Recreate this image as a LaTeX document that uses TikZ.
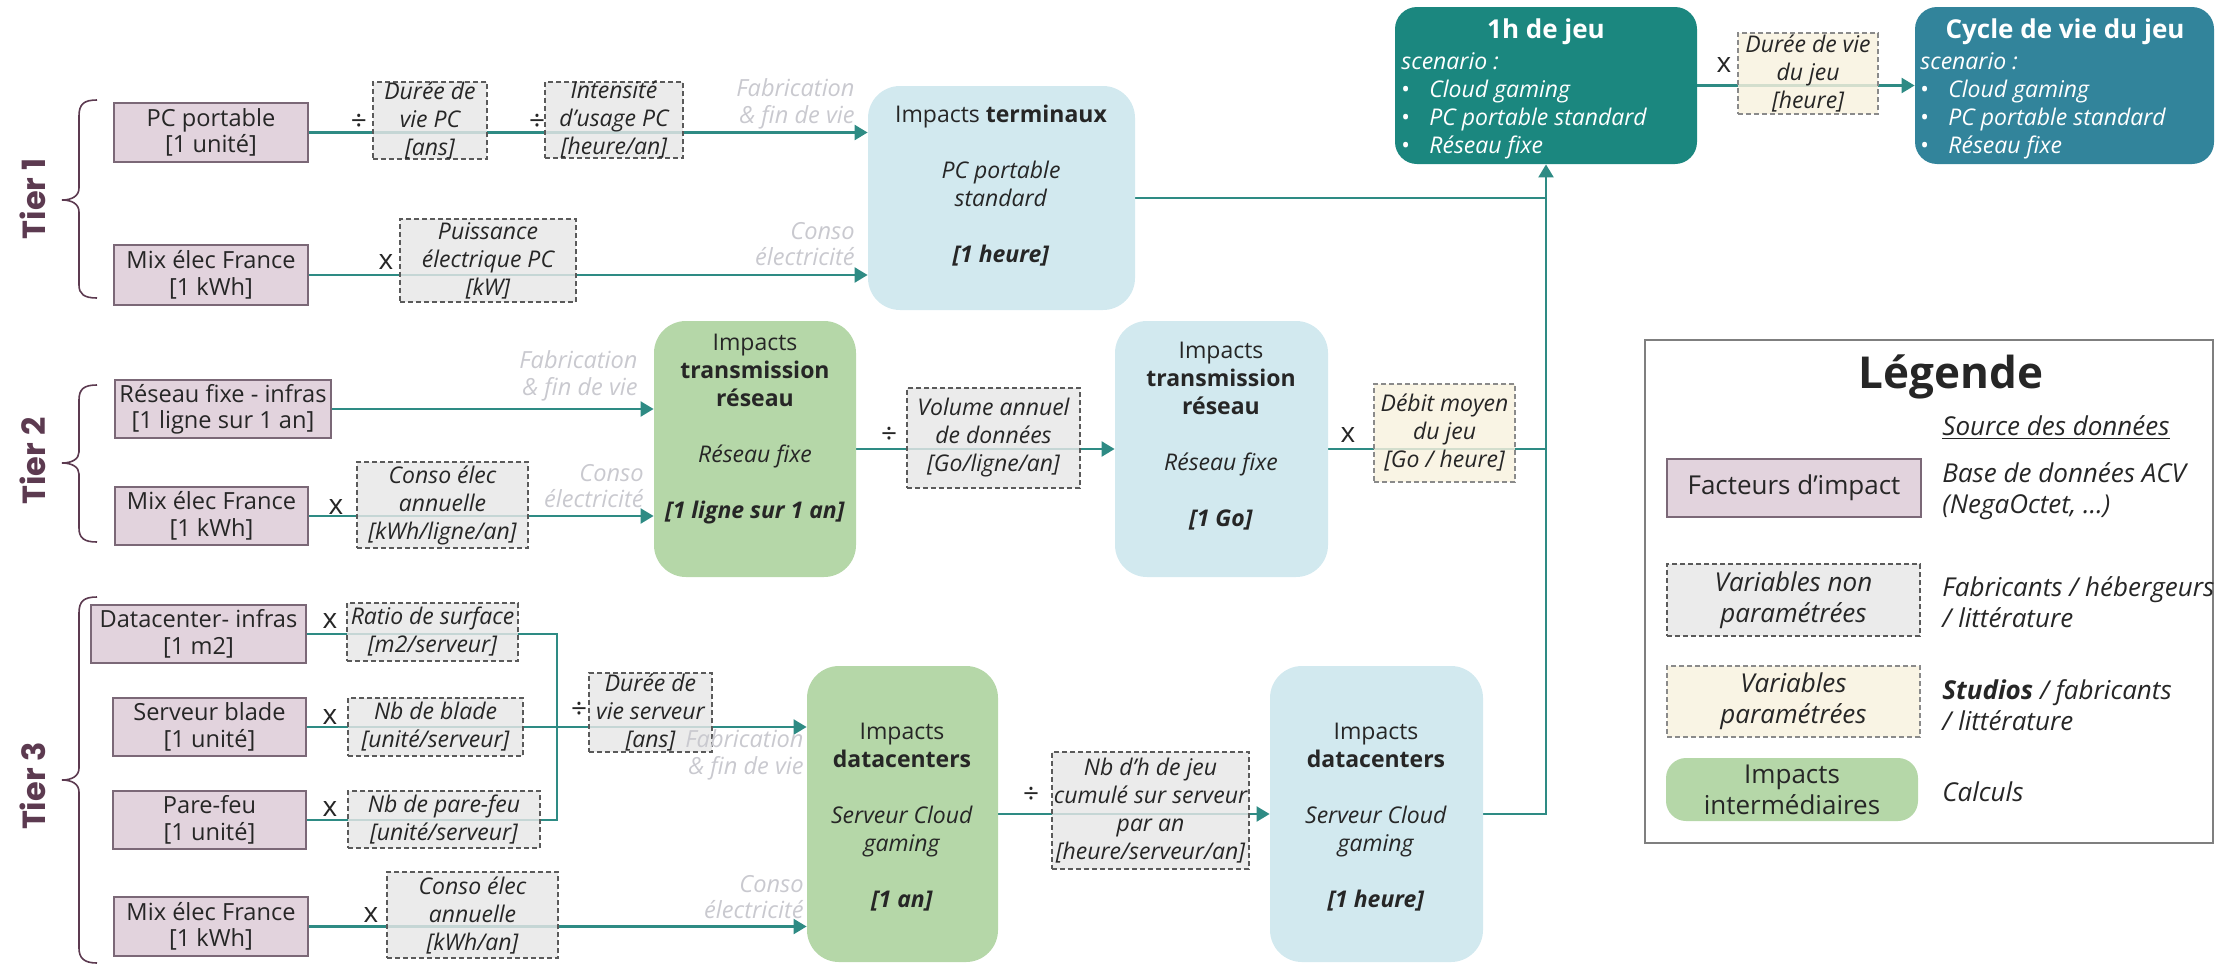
\documentclass[tikz,border=0pt]{standalone}
\usepackage{fontspec}
\setmainfont{Open Sans}
\newfontfamily\tierfont{Poppins}
\usetikzlibrary{fit,arrows.meta,backgrounds}
\definecolor{facF}{HTML}{E2D3DD}
\definecolor{facB}{HTML}{7B6877}
\definecolor{varF}{HTML}{E7E7E7}
\definecolor{varB}{HTML}{5A5A5A}
\definecolor{parF}{HTML}{F8F1DE}
\definecolor{parB}{HTML}{8A8A8A}
\definecolor{grnF}{HTML}{B5D7A8}
\definecolor{bluF}{HTML}{D2E9EF}
\definecolor{jeuF}{HTML}{1B877F}
\definecolor{cycF}{HTML}{32849B}
\definecolor{lineC}{HTML}{2E8B84}
\definecolor{lblC}{HTML}{C9C9CF}
\definecolor{txtC}{HTML}{262626}
\definecolor{tierC}{HTML}{5C3A50}
\definecolor{legB}{HTML}{7F7F7F}
\newcommand\fmain{\fontsize{11.8}{13.2}\selectfont}
\newcommand\fvar{\fontsize{11.5}{14}\selectfont\itshape}
\newcommand\fbig{\fontsize{11.5}{14}\selectfont}
\newcommand\fleg{\fontsize{13}{15.5}\selectfont}
% box with separate centred text: {box style}{text style}{name}{x1}{y1}{x2}{y2}{text}
\newcommand\bx[8]{%
  \node[#1, fit={(#4,#5)(#6,#7)}] (#3) {};%
  \node[#2] (#3T) at (#3.center) {#8};}
\begin{document}
\begin{tikzpicture}[x=0.5pt,y=-0.5pt,
  every node/.style={text=txtC},
  fac/.style={draw=facB, fill=facF, line width=1pt, inner sep=0pt},
  factxt/.style={align=center, font=\fmain, inner sep=0pt},
  dvar/.style={draw=varB, dashed, dash pattern=on 2.5pt off 1.5pt, fill=varF, fill opacity=.82, line width=.7pt, inner sep=0pt},
  pvar/.style={dvar, draw=parB, fill=parF},
  vartxt/.style={align=center, font=\fvar, inner sep=0pt},
  grnbox/.style={fill=grnF, rounded corners=16pt, inner sep=0pt},
  blubox/.style={fill=bluF, rounded corners=16pt, inner sep=0pt},
  bigtxt/.style={align=center, font=\fbig, inner sep=0pt},
  conn/.style={draw=lineC, line width=1.1pt},
  arr/.style={conn, -{Triangle[length=6.5pt,width=7.5pt]}},
  lbl/.style={text=lblC, font=\fmain\itshape, align=right, anchor=east, inner sep=0pt},
  op/.style={font=\fontsize{14}{16}\selectfont, inner sep=0pt},
  brace/.style={draw=tierC, line width=.8pt},
  tier/.style={text=tierC, font=\tierfont\bfseries\fontsize{16}{18}\selectfont, rotate=90, inner sep=0pt},
  scen/.style={text=white, align=left, anchor=west, inner sep=0pt, font=\fontsize{11.5}{14}\selectfont\itshape},
  ttl/.style={text=white, inner sep=0pt, font=\fontsize{13}{15}\selectfont\bfseries},
  legtxt/.style={font=\fleg\itshape, align=left, anchor=west, inner sep=0pt},
  legbox/.style={align=center, font=\fleg, inner sep=0pt},
  legboxi/.style={align=center, font=\fleg\itshape, inner sep=0pt}
]
\useasboundingbox (0,0) rectangle (2216,964);

% ---------- tier labels and braces ----------
\node[tier] (t1) at (33,199) {Tier 1};
\node[tier] (t2) at (33,461) {Tier 2};
\node[tier] (t3) at (33,786) {Tier 3};
\draw[brace] (97,100) .. controls (84,100) and (79,104) .. (79,116) -- (79,188) .. controls (79,196) and (72,200) .. (62,200) .. controls (72,200) and (79,204) .. (79,212) -- (79,285) .. controls (79,294) and (84,298) .. (97,298);
\draw[brace] (97,385) .. controls (84,385) and (79,389) .. (79,400) -- (79,452) .. controls (79,459) and (72,463) .. (62,463) .. controls (72,463) and (79,467) .. (79,474) -- (79,528) .. controls (79,538) and (84,542) .. (97,542);
\draw[brace] (97,597) .. controls (84,597) and (79,601) .. (79,613) -- (79,768) .. controls (79,776) and (72,780) .. (62,780) .. controls (72,780) and (79,784) .. (79,792) -- (79,948) .. controls (79,958) and (84,963) .. (97,963);

% ---------- impact factors ----------
\bx{fac}{factxt}{pc}{114}{103}{308}{162}{PC portable\\{}[1 unité]}
\bx{fac}{factxt}{mx1}{114}{245}{308}{305}{Mix élec France\\{}[1 kWh]}
\bx{fac}{factxt}{rfi}{115}{380}{331}{438}{Réseau fixe - infras\\{}[1 ligne sur 1 an]}
\bx{fac}{factxt}{mx2}{115}{487}{308}{545}{Mix élec France\\{}[1 kWh]}
\bx{fac}{factxt}{dci}{91}{605}{306}{663}{Datacenter- infras\\{}[1 m2]}
\bx{fac}{factxt}{sb}{113}{698}{306}{756}{Serveur blade\\{}[1 unité]}
\bx{fac}{factxt}{pf}{113}{791}{306}{849}{Pare-feu\\{}[1 unité]}
\bx{fac}{factxt}{mx3}{114}{897}{308}{956}{Mix élec France\\{}[1 kWh]}

% ---------- big boxes ----------
\node[blubox, fit={(868,86)(1135,310)}] (term) {};
\node[grnbox, fit={(654,321)(856,577)}] (gtr) {};
\node[blubox, fit={(1115,321)(1328,577)}] (btr) {};
\node[grnbox, fit={(807,666)(998,962)}] (gdc) {};
\node[blubox, fit={(1270,666)(1483,962)}] (bdc) {};
\node[fill=jeuF, rounded corners=11pt, inner sep=0pt, fit={(1395,7)(1697,164)}] (jeu) {};
\node[fill=cycF, rounded corners=11pt, inner sep=0pt, fit={(1915,7)(2214,164)}] (cyc) {};

\node[bigtxt] (termT) at (1001,186) {Impacts \textbf{terminaux}\\[14pt]\textit{PC portable}\\\textit{standard}\\[14pt]\textbf{\textit{[1 heure]}}};
\node[bigtxt] (gtrT) at (755,429) {Impacts\\\textbf{transmission}\\\textbf{réseau}\\[14pt]\textit{Réseau fixe}\\[14pt]\textbf{\textit{[1 ligne sur 1 an]}}};
\node[bigtxt] (btrT) at (1221,436) {Impacts\\\textbf{transmission}\\\textbf{réseau}\\[14pt]\textit{Réseau fixe}\\[14pt]\textbf{\textit{[1 Go]}}};
\node[bigtxt] (gdcT) at (902,817) {Impacts\\\textbf{datacenters}\\[14pt]\textit{Serveur Cloud}\\\textit{gaming}\\[14pt]\textbf{\textit{[1 an]}}};
\node[bigtxt] (bdcT) at (1376,817) {Impacts\\\textbf{datacenters}\\[14pt]\textit{Serveur Cloud}\\\textit{gaming}\\[14pt]\textbf{\textit{[1 heure]}}};

\node[ttl] (jeuT) at (1546,32) {1h de jeu};
\node[scen] (jeuL) at (1401,106) {scenario :\\\makebox[14pt][l]{\upshape•}Cloud gaming\\\makebox[14pt][l]{\upshape•}PC portable standard\\\makebox[14pt][l]{\upshape•}Réseau fixe};
\node[ttl] (cycT) at (2065,32) {Cycle de vie du jeu};
\node[scen] (cycL) at (1920,106) {scenario :\\\makebox[14pt][l]{\upshape•}Cloud gaming\\\makebox[14pt][l]{\upshape•}PC portable standard\\\makebox[14pt][l]{\upshape•}Réseau fixe};

% ---------- connectors (behind) ----------
\coordinate (jn) at (557,726);
\begin{scope}[on background layer]
\draw[arr] (pc.east) -- (pc.east -| term.west);
\draw[arr] (mx1.east) -- (mx1.east -| term.west);
\draw[arr] (rfi.east) -- (rfi.east -| gtr.west);
\draw[arr] (mx2.east) -- (mx2.east -| gtr.west);
\draw[arr] (gtr.east) -- (btr.west);
\draw[conn] (dci.east) -| (jn);
\draw[conn] (pf.east) -| (jn);
\draw[arr] (sb.east) -- (sb.east -| gdc.west);
\draw[arr] (mx3.east) -- (mx3.east -| gdc.west);
\draw[arr] (gdc.east) -- (bdc.west);
\draw[conn] (term.east) -- (term.east -| jeu.south);
\draw[conn] (btr.east) -- (btr.east -| jeu.south);
\draw[arr] (bdc.east) -| (jeu.south);
\draw[arr] (jeu.east) -- (cyc.west);
\end{scope}

% ---------- variables ----------
\bx{dvar}{vartxt}{dvpc}{373}{82}{487}{159}{Durée de\\vie PC\\{}[ans]}
\bx{dvar}{vartxt}{iu}{545}{82}{683}{158}{Intensité\\d’usage PC\\{}[heure/an]}
\bx{dvar}{vartxt}{pe}{400}{219}{576}{302}{Puissance\\électrique PC\\{}[kW]}
\bx{dvar}{vartxt}{ce2}{357}{462}{528}{548}{Conso élec\\annuelle\\{}[kWh/ligne/an]}
\bx{dvar}{vartxt}{va}{907}{388}{1080}{488}{Volume annuel\\de données\\{}[Go/ligne/an]}
\bx{pvar}{vartxt}{dm}{1374}{384}{1515}{482}{Débit moyen\\du jeu\\{}[Go / heure]}
\bx{dvar}{vartxt}{rs}{347}{603}{518}{661}{Ratio de surface\\{}[m2/serveur]}
\bx{dvar}{vartxt}{nb}{348}{698}{523}{756}{Nb de blade\\{}[unité/serveur]}
\bx{dvar}{vartxt}{np}{348}{791}{540}{848}{Nb de pare-feu\\{}[unité/serveur]}
\bx{dvar}{vartxt}{dvs}{589}{673}{712}{752}{Durée de\\vie serveur\\{}[ans]}
\bx{dvar}{vartxt}{ce3}{387}{872}{558}{958}{Conso élec\\annuelle\\{}[kWh/an]}
\bx{dvar}{vartxt}{nh}{1052}{752}{1249}{869}{Nb d’h de jeu\\cumulé sur serveur\\par an\\{}[heure/serveur/an]}
\bx{pvar}{vartxt}{dj}{1738}{33}{1878}{114}{Durée de vie\\du jeu\\{}[heure]}

% ---------- operators ----------
\node[op] (o1) at (359,122) {÷};
\node[op] (o2) at (537,122) {÷};
\node[op] (o3) at (386,262) {x};
\node[op] (o4) at (336,507) {x};
\node[op] (o5) at (889,435) {÷};
\node[op] (o6) at (1348,435) {x};
\node[op] (o7) at (330,621) {x};
\node[op] (o8) at (330,717) {x};
\node[op] (o9) at (330,809) {x};
\node[op] (o10) at (371,915) {x};
\node[op] (o11) at (579,710) {÷};
\node[op] (o12) at (1031,795) {÷};
\node[op] (o13) at (1724,65) {x};

% ---------- grey labels ----------
\node[lbl] (l1) at (855,104) {Fabrication\\\& fin de vie};
\node[lbl] (l2) at (855,244) {Conso\\électricité};
\node[lbl] (l3) at (638,376) {Fabrication\\\& fin de vie};
\node[lbl] (l4) at (644,486) {Conso\\électricité};
\node[lbl] (l5) at (804,755) {Fabrication\\\& fin de vie};
\node[lbl] (l6) at (804,897) {Conso\\électricité};

% ---------- legend ----------
\node[draw=legB, line width=.8pt, inner sep=0pt, fit={(1645,340)(2213,843)}] (leg) {};
\node[inner sep=0pt, font=\fontsize{22}{26}\selectfont\bfseries] (legT) at (1951,377) {Légende};
\node[legtxt] (legS) at (1942,428) {\underline{Source des données}};
\bx{fac}{legbox}{lg1}{1667}{459}{1921}{517}{Facteurs d’impact}
\node[legtxt] (ls1) at (1942,491) {Base de données ACV\\(NegaOctet, …)};
\bx{dvar}{legboxi}{lg2}{1667}{564}{1920}{636}{Variables non\\paramétrées}
\node[legtxt] (ls2) at (1942,602) {Fabricants / hébergeurs\\/ littérature};
\bx{pvar}{legboxi}{lg3}{1667}{666}{1920}{737}{Variables\\paramétrées}
\node[legtxt] (ls3) at (1942,705) {\textbf{Studios} / fabricants\\/ littérature};
\bx{grnbox, rounded corners=10pt}{legbox}{lg4}{1666}{758}{1918}{821}{Impacts\\intermédiaires}
\node[legtxt] (ls4) at (1942,792) {Calculs};
\end{tikzpicture}
\end{document}
